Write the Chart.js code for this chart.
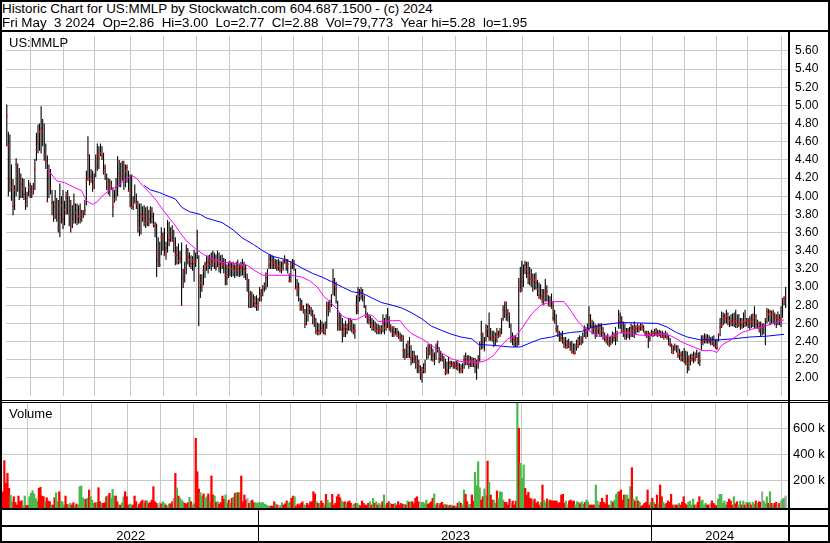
<!DOCTYPE html>
<html><head><meta charset="utf-8">
<script src="https://cdn.jsdelivr.net/npm/chart.js@4.4.1/dist/chart.umd.min.js"></script>
<style>
html,body{margin:0;padding:0;background:#fff;}
#wrap{position:relative;width:830px;height:543px;overflow:hidden;font-family:"Liberation Sans",Arial,sans-serif;color:#000;}
.ln{position:absolute;background:#000;z-index:5;}
.txt{position:absolute;font-size:13px;line-height:13px;white-space:pre;z-index:4;}
.ttl{font-size:13.4px;}
.cw{position:absolute;}
</style></head><body><div id="wrap">
<div class="txt ttl" style="left:2px;top:2.1px">Historic Chart for US:MMLP by Stockwatch.com 604.687.1500 - (c) 2024</div>
<div class="txt ttl" style="left:2px;top:15.5px">Fri May  3 2024  Op=2.86  Hi=3.00  Lo=2.77  Cl=2.88  Vol=79,773  Year hi=5.28  lo=1.95</div>
<div class="cw" style="left:2px;top:32px;width:826px;height:368px"><canvas id="pc"></canvas></div>
<div class="cw" style="left:2px;top:403px;width:826px;height:138px"><canvas id="vc"></canvas></div>
<div class="txt" style="left:9px;top:35.7px">US:MMLP</div>
<div class="txt" style="left:9px;top:407.3px">Volume</div>
<div class="ln" style="left:0;top:0;width:830px;height:2px"></div>
<div class="ln" style="left:0;top:0;width:2px;height:543px"></div>
<div class="ln" style="left:828px;top:0;width:2px;height:543px"></div>
<div class="ln" style="left:0;top:541px;width:830px;height:2px"></div>
<div class="ln" style="left:0;top:30px;width:830px;height:2px"></div>
<div class="ln" style="left:0;top:400px;width:830px;height:1px"></div>
<div class="ln" style="left:0;top:402px;width:830px;height:1px"></div>
<div class="ln" style="left:0;top:508px;width:830px;height:2px"></div>
<div class="ln" style="left:0;top:525px;width:830px;height:2px"></div>
<div class="ln" style="left:788px;top:32px;width:2px;height:511px"></div>
</div>
<script>
// ---- data (trading days, starting May 9 2022, ending May 3 2024) ----
const closes=[
4.88,4.56,4.19,4.10,3.89,4.07,4.35,4.25,4.19,4.13,
4.08,4.02,3.92,3.98,4.10,4.05,4.02,4.09,4.30,4.51,
4.60,4.71,4.75,4.71,4.45,4.39,3.94,4.28,4.09,3.93,
3.77,3.88,3.82,3.65,3.80,3.90,3.75,3.85,3.98,4.02,
3.80,3.67,3.72,3.91,3.82,3.75,3.78,3.75,3.80,3.82,
3.85,4.17,4.46,4.19,4.22,4.11,4.15,4.33,4.46,4.42,
4.48,4.45,4.27,4.31,4.18,4.10,4.08,4.12,3.88,3.97,
4.10,4.38,4.25,4.20,4.37,4.22,4.28,4.32,4.06,4.00,
3.88,3.89,3.95,3.92,3.73,3.65,3.80,3.78,3.75,3.70,
3.80,3.75,3.85,3.78,3.69,3.67,3.39,3.30,3.24,3.55,
3.55,3.35,3.43,3.60,3.52,3.55,3.64,3.48,3.35,3.35,
3.29,3.32,2.80,3.10,3.20,3.38,3.33,3.30,3.26,3.30,
3.26,3.28,3.59,3.12,3.05,3.00,3.18,3.25,3.24,3.28,
3.30,3.25,3.32,3.28,3.22,3.30,3.25,3.28,3.26,3.25,
3.13,3.10,3.22,3.25,3.20,3.23,3.18,3.22,3.20,3.23,
3.22,3.24,3.20,3.18,3.09,2.91,2.91,2.80,2.85,2.82,
2.80,2.82,2.90,2.92,2.98,3.01,3.10,3.15,3.24,3.28,
3.29,3.27,3.25,3.22,3.23,3.20,3.20,3.26,3.31,3.27,
3.25,3.07,3.22,3.27,3.24,2.98,3.00,2.98,2.80,2.78,
2.74,2.59,2.70,2.80,2.76,2.74,2.66,2.60,2.52,2.50,
2.52,2.51,2.55,2.53,2.49,2.80,2.74,2.80,2.88,3.07,
3.02,2.98,2.66,2.58,2.54,2.50,2.54,2.56,2.54,2.62,
2.60,2.55,2.52,2.52,2.80,2.74,2.90,2.95,2.92,2.78,
2.70,2.66,2.64,2.58,2.60,2.55,2.56,2.52,2.54,2.52,
2.54,2.60,2.55,2.58,2.62,2.56,2.52,2.55,2.50,2.48,
2.50,2.46,2.45,2.43,2.30,2.23,2.32,2.26,2.36,2.22,
2.26,2.22,2.18,2.16,2.12,2.06,2.06,2.09,2.15,2.30,
2.36,2.32,2.27,2.25,2.18,2.32,2.39,2.21,2.24,2.21,
2.14,2.06,2.08,2.05,2.16,2.14,2.16,2.14,2.12,2.14,
2.06,2.10,2.09,2.20,2.22,2.18,2.15,2.19,2.20,2.19,
2.12,2.16,2.20,2.35,2.48,2.40,2.30,2.50,2.54,2.45,
2.46,2.44,2.36,2.45,2.48,2.46,2.50,2.64,2.75,2.83,
2.74,2.72,2.70,2.45,2.45,2.42,2.41,2.38,3.00,2.97,
3.06,3.12,3.25,3.20,3.15,3.12,3.09,3.06,3.08,3.05,
2.98,2.91,2.88,2.90,2.86,2.93,2.95,2.80,2.84,2.78,
2.66,2.62,2.54,2.50,2.48,2.44,2.41,2.38,2.34,2.36,
2.36,2.33,2.29,2.28,2.27,2.35,2.36,2.40,2.38,2.45,
2.54,2.50,2.52,2.68,2.62,2.57,2.55,2.48,2.52,2.55,
2.57,2.52,2.50,2.45,2.42,2.40,2.36,2.42,2.46,2.44,
2.46,2.48,2.66,2.62,2.60,2.52,2.46,2.50,2.52,2.50,
2.55,2.52,2.55,2.54,2.57,2.55,2.57,2.56,2.54,2.49,
2.48,2.47,2.44,2.49,2.48,2.50,2.49,2.47,2.49,2.48,
2.45,2.46,2.49,2.45,2.38,2.36,2.30,2.27,2.34,2.32,
2.25,2.26,2.25,2.22,2.20,2.18,2.16,2.18,2.20,2.21,
2.23,2.22,2.24,2.20,2.19,2.39,2.40,2.42,2.44,2.43,
2.42,2.42,2.40,2.36,2.35,2.33,2.47,2.56,2.58,2.64,
2.66,2.68,2.66,2.63,2.62,2.61,2.64,2.63,2.58,2.60,
2.61,2.58,2.62,2.61,2.63,2.60,2.64,2.62,2.64,2.66,
2.60,2.61,2.56,2.55,2.55,2.57,2.64,2.73,2.70,2.73,
2.70,2.71,2.68,2.66,2.66,2.64,2.64,2.86,2.88,2.88];
const highs=[
5.01,4.71,4.68,4.35,4.19,4.12,4.42,4.36,4.31,4.25,
4.20,4.19,4.10,4.05,4.18,4.15,4.12,4.15,4.41,4.70,
4.79,4.80,4.99,4.85,4.80,4.58,4.45,4.35,4.30,4.07,
3.95,4.07,3.98,3.96,4.14,4.00,4.07,3.95,4.05,4.07,
4.00,3.96,3.90,4.03,3.92,3.92,3.90,3.92,3.85,3.85,
3.96,4.28,4.66,4.46,4.30,4.28,4.25,4.46,4.58,4.55,
4.58,4.55,4.48,4.35,4.25,4.20,4.19,4.17,4.10,4.07,
4.20,4.44,4.40,4.37,4.39,4.39,4.35,4.35,4.28,4.24,
4.24,4.00,4.13,4.03,3.95,3.92,3.92,3.89,3.90,3.88,
3.89,3.85,3.89,3.88,3.82,3.72,3.70,3.55,3.50,3.66,
3.60,3.65,3.50,3.74,3.72,3.66,3.68,3.63,3.55,3.45,
3.48,3.40,3.49,3.20,3.28,3.47,3.43,3.38,3.35,3.34,
3.41,3.38,3.63,3.35,3.14,3.14,3.24,3.28,3.34,3.35,
3.36,3.38,3.40,3.38,3.36,3.40,3.38,3.35,3.36,3.32,
3.31,3.25,3.28,3.29,3.27,3.28,3.25,3.28,3.30,3.26,
3.28,3.31,3.28,3.25,3.15,3.09,2.96,2.95,2.92,2.90,
2.91,2.88,3.00,2.98,3.02,3.05,3.16,3.20,3.36,3.36,
3.35,3.33,3.31,3.30,3.31,3.29,3.28,3.30,3.35,3.31,
3.31,3.15,3.28,3.31,3.30,3.20,3.09,3.05,2.88,2.86,
2.80,2.76,2.82,2.82,2.80,2.78,2.75,2.70,2.66,2.61,
2.60,2.64,2.62,2.60,2.62,2.84,2.84,2.86,2.92,3.20,
3.10,3.06,2.85,2.72,2.70,2.66,2.60,2.63,2.60,2.66,
2.66,2.64,2.60,2.59,2.91,3.00,2.98,3.00,2.98,2.91,
2.80,2.72,2.70,2.68,2.66,2.64,2.62,2.60,2.59,2.58,
2.58,2.70,2.66,2.70,2.77,2.68,2.59,2.57,2.57,2.55,
2.55,2.52,2.50,2.48,2.47,2.32,2.38,2.41,2.45,2.36,
2.30,2.30,2.25,2.25,2.20,2.14,2.12,2.16,2.20,2.34,
2.37,2.37,2.37,2.32,2.28,2.38,2.41,2.34,2.30,2.27,
2.24,2.21,2.18,2.23,2.19,2.19,2.18,2.18,2.19,2.18,
2.16,2.15,2.16,2.25,2.28,2.25,2.25,2.24,2.23,2.22,
2.22,2.20,2.25,2.40,2.63,2.50,2.45,2.59,2.58,2.72,
2.55,2.52,2.52,2.50,2.55,2.52,2.55,2.66,2.80,2.84,
2.84,2.76,2.72,2.60,2.50,2.47,2.47,2.45,3.10,3.22,
3.29,3.25,3.29,3.28,3.28,3.22,3.20,3.15,3.15,3.16,
3.08,3.05,3.03,2.98,2.98,3.09,3.02,2.91,2.90,2.93,
2.84,2.75,2.70,2.58,2.52,2.50,2.52,2.45,2.45,2.42,
2.43,2.40,2.41,2.38,2.38,2.42,2.45,2.47,2.46,2.50,
2.58,2.56,2.60,2.79,2.70,2.64,2.62,2.59,2.58,2.60,
2.60,2.60,2.56,2.50,2.47,2.49,2.45,2.46,2.51,2.50,
2.56,2.52,2.75,2.72,2.68,2.62,2.60,2.55,2.55,2.56,
2.60,2.58,2.62,2.58,2.60,2.58,2.60,2.60,2.58,2.52,
2.52,2.52,2.50,2.53,2.52,2.54,2.55,2.53,2.53,2.52,
2.52,2.50,2.52,2.50,2.47,2.44,2.38,2.36,2.38,2.36,
2.36,2.32,2.29,2.30,2.33,2.30,2.29,2.25,2.26,2.27,
2.29,2.28,2.31,2.28,2.29,2.47,2.47,2.49,2.48,2.48,
2.47,2.45,2.46,2.47,2.42,2.43,2.49,2.66,2.73,2.72,
2.71,2.75,2.72,2.68,2.70,2.71,2.72,2.75,2.70,2.70,
2.66,2.66,2.72,2.75,2.66,2.66,2.68,2.70,2.71,2.79,
2.70,2.64,2.62,2.62,2.60,2.60,2.66,2.77,2.76,2.75,
2.74,2.75,2.72,2.70,2.73,2.70,2.79,2.88,2.90,3.00];
const lows=[
4.55,4.00,4.05,3.95,3.79,3.85,4.00,4.05,3.96,3.98,
3.98,3.96,3.85,3.88,4.00,3.98,3.98,4.02,4.07,4.39,
4.47,4.50,4.47,4.55,4.39,4.30,3.94,3.98,4.02,3.79,
3.72,3.75,3.72,3.60,3.55,3.70,3.64,3.68,3.80,3.80,
3.67,3.60,3.65,3.70,3.70,3.68,3.70,3.70,3.72,3.76,
3.79,3.90,4.17,4.12,4.15,4.05,4.08,4.21,4.28,4.30,
4.44,4.40,4.24,4.18,4.07,4.02,4.00,4.07,3.77,3.93,
3.95,4.00,4.10,4.10,4.17,4.07,4.10,4.15,4.05,3.88,
3.86,3.85,3.92,3.86,3.60,3.56,3.58,3.72,3.67,3.65,
3.67,3.67,3.70,3.70,3.66,3.55,3.11,3.22,3.22,3.35,
3.40,3.35,3.30,3.38,3.45,3.50,3.50,3.38,3.24,3.25,
3.25,3.26,2.80,2.99,3.05,3.14,3.25,3.22,3.20,3.18,
3.06,3.22,3.31,2.57,2.88,2.95,3.02,3.10,3.18,3.15,
3.20,3.18,3.22,3.20,3.18,3.22,3.16,3.15,3.20,3.15,
3.02,3.02,3.10,3.12,3.11,3.12,3.10,3.12,3.12,3.11,
3.12,3.13,3.10,3.08,2.95,2.77,2.77,2.77,2.78,2.77,
2.74,2.74,2.84,2.84,2.90,2.95,2.97,3.00,3.20,3.20,
3.20,3.20,3.20,3.18,3.18,3.16,3.15,3.18,3.26,3.18,
3.15,3.05,3.05,3.20,3.18,2.98,2.90,2.84,2.74,2.74,
2.71,2.55,2.58,2.62,2.70,2.68,2.59,2.56,2.48,2.47,
2.47,2.48,2.50,2.48,2.47,2.54,2.68,2.72,2.78,2.91,
2.90,2.82,2.52,2.52,2.52,2.39,2.45,2.45,2.48,2.52,
2.52,2.50,2.48,2.43,2.70,2.70,2.84,2.86,2.84,2.77,
2.66,2.60,2.59,2.55,2.52,2.52,2.50,2.48,2.48,2.48,
2.48,2.50,2.48,2.52,2.55,2.52,2.50,2.45,2.45,2.47,
2.45,2.43,2.40,2.40,2.22,2.20,2.22,2.22,2.22,2.14,
2.16,2.16,2.10,2.05,2.05,1.98,1.95,2.05,2.05,2.20,
2.21,2.25,2.19,2.18,2.14,2.20,2.28,2.16,2.18,2.18,
2.10,2.03,2.04,2.05,2.10,2.12,2.10,2.10,2.09,2.08,
2.05,2.05,2.05,2.10,2.14,2.14,2.10,2.12,2.12,2.12,
2.05,1.98,2.10,2.18,2.31,2.32,2.30,2.40,2.45,2.41,
2.41,2.40,2.34,2.36,2.39,2.44,2.45,2.48,2.63,2.66,
2.63,2.62,2.55,2.39,2.36,2.34,2.34,2.34,2.36,2.94,
2.95,3.00,3.14,3.10,3.03,3.02,3.00,2.95,2.97,2.97,
2.90,2.87,2.86,2.82,2.80,2.84,2.84,2.79,2.78,2.76,
2.63,2.60,2.50,2.45,2.40,2.40,2.38,2.33,2.32,2.32,
2.33,2.30,2.27,2.26,2.26,2.30,2.33,2.36,2.36,2.38,
2.45,2.43,2.45,2.52,2.55,2.48,2.48,2.43,2.45,2.48,
2.45,2.45,2.42,2.40,2.38,2.36,2.34,2.36,2.38,2.40,
2.36,2.40,2.54,2.54,2.49,2.45,2.42,2.42,2.44,2.42,
2.45,2.45,2.44,2.48,2.50,2.50,2.52,2.52,2.50,2.46,
2.44,2.33,2.40,2.46,2.45,2.46,2.46,2.45,2.46,2.44,
2.44,2.42,2.44,2.42,2.36,2.34,2.27,2.26,2.30,2.28,
2.22,2.20,2.18,2.18,2.16,2.14,2.05,2.08,2.14,2.18,
2.16,2.18,2.22,2.15,2.13,2.30,2.36,2.38,2.38,2.38,
2.38,2.36,2.36,2.34,2.32,2.31,2.40,2.46,2.55,2.58,
2.60,2.60,2.58,2.56,2.57,2.57,2.56,2.55,2.55,2.56,
2.53,2.54,2.55,2.56,2.57,2.55,2.53,2.55,2.56,2.55,
2.55,2.54,2.50,2.45,2.47,2.48,2.36,2.60,2.62,2.58,
2.60,2.60,2.58,2.55,2.58,2.58,2.56,2.66,2.80,2.77];
// daily volume, thousands of shares
const volumesK=[
112,351,177,254,138,84,35,74,30,10,
79,35,43,5,79,5,8,74,100,120,
95,60,41,138,146,79,74,35,66,41,
35,10,10,66,105,35,112,40,35,10,
79,15,10,23,10,28,2,18,10,151,
156,66,54,54,62,125,74,48,23,28,
30,143,35,23,23,28,74,82,100,60,
131,79,79,35,10,10,28,74,112,74,
10,18,10,10,79,35,2,18,35,48,
28,43,41,23,30,48,151,35,23,5,
28,18,35,23,10,2,18,20,35,62,
254,141,79,62,48,35,23,18,28,69,
35,10,20,523,266,133,105,79,95,62,
74,95,40,233,87,79,31,35,18,30,
79,54,87,23,48,23,62,69,100,105,
105,105,233,35,87,48,62,23,41,48,
28,28,23,28,28,28,28,15,10,2,
2,2,0,35,18,10,2,5,28,10,
20,41,23,35,62,79,74,2,18,10,
23,35,10,10,23,10,35,35,112,95,
35,23,23,41,23,10,92,48,23,30,
92,10,23,74,92,66,41,31,35,23,
35,41,23,10,15,23,23,10,5,41,
23,10,10,23,35,10,62,23,35,10,
23,10,35,87,10,23,35,23,15,15,
23,10,35,10,23,15,15,10,41,31,
35,35,20,62,74,35,23,31,31,20,
48,15,23,35,62,95,10,23,10,23,
31,10,15,10,5,8,10,0,3,0,
23,35,23,10,125,92,35,10,15,87,
40,261,159,343,143,48,74,133,82,348,
185,87,48,48,23,118,60,112,108,48,
31,31,10,56,23,41,10,41,810,600,
331,215,318,138,87,108,62,56,40,56,
23,35,10,31,164,48,31,56,41,48,
41,41,41,41,23,30,87,92,23,41,
10,41,48,35,41,10,35,31,20,35,
15,30,48,35,10,10,10,10,164,41,
10,31,62,31,20,87,10,10,41,31,
48,92,108,112,125,48,87,87,87,56,
151,297,56,40,74,41,31,0,10,23,
31,125,10,31,62,31,15,87,20,164,
74,31,15,23,41,31,92,10,10,10,
10,23,10,31,74,20,10,31,41,10,
56,10,10,31,74,41,48,10,23,10,
10,20,41,23,10,5,56,92,92,23,
41,10,31,56,41,10,74,20,35,10,
41,10,41,10,31,23,31,10,31,15,
41,23,35,31,112,41,20,74,23,112,
23,10,23,31,10,23,41,56,62,80];
// moving averages (day index, value)
const maFastIdx=[26,32,37,43,48,51,55,58,61,66,70,75,80,83,87,92,96,100,105,107,111,115,121,126,132,138,143,149,154,159,164,168,182,189,194,199,203,207,212,215,219,224,229,234,238,247,252,255,259,266,272,279,285,291,302,307,312,317,321,326,331,336,342,349,357,361,366,370,375,379,387,393,399,406,423,427,433,440,446,452,455,458,465,471,478,484,491,498];
const maFastVal=[4.30,4.17,4.15,4.10,4.06,3.95,3.91,3.94,4.00,4.07,4.10,4.17,4.23,4.20,4.12,4.03,3.95,3.85,3.74,3.70,3.60,3.51,3.42,3.36,3.31,3.27,3.27,3.25,3.24,3.18,3.13,3.13,3.13,3.11,3.07,3.00,2.90,2.84,2.75,2.68,2.65,2.64,2.69,2.69,2.62,2.63,2.63,2.56,2.49,2.43,2.36,2.27,2.21,2.18,2.17,2.19,2.25,2.36,2.43,2.46,2.57,2.70,2.80,2.84,2.84,2.75,2.62,2.55,2.50,2.46,2.46,2.50,2.49,2.47,2.48,2.45,2.39,2.34,2.30,2.30,2.28,2.36,2.43,2.50,2.54,2.56,2.60,2.64];
const maSlowIdx=[88,92,98,102,108,112,117,124,128,132,138,145,151,158,164,170,177,183,189,196,202,208,215,221,228,234,240,247,253,259,266,272,279,285,291,298,302,310,317,323,329,336,342,349,355,361,368,374,380,393,417,423,429,436,444,457,465,476,487,498];
const maSlowVal=[4.12,4.07,4.04,4.01,3.97,3.88,3.83,3.80,3.76,3.74,3.71,3.63,3.54,3.47,3.40,3.34,3.31,3.27,3.21,3.15,3.11,3.06,3.00,2.95,2.93,2.88,2.83,2.80,2.77,2.72,2.65,2.57,2.52,2.48,2.45,2.43,2.37,2.36,2.35,2.34,2.34,2.39,2.43,2.45,2.48,2.50,2.51,2.55,2.58,2.61,2.60,2.56,2.50,2.45,2.42,2.42,2.43,2.45,2.46,2.48];
const priceTicks=[2.00,2.20,2.40,2.60,2.80,3.00,3.20,3.40,3.60,3.80,4.00,4.20,4.40,4.60,4.80,5.00,5.20,5.40,5.60];
const volumeTicksK=[200,400,600];
const monthNames=['2022-05','2022-06','2022-07','2022-08','2022-09','2022-10','2022-11','2022-12','2023-01','2023-02','2023-03','2023-04','2023-05','2023-06','2023-07','2023-08','2023-09','2023-10','2023-11','2023-12','2024-01','2024-02','2024-03','2024-04','2024-05'];
const monthDays=[16,21,20,23,21,21,21,21,20,19,23,19,22,21,20,23,20,22,21,20,21,20,20,22,3];

// ---- derived structures ----
const monthStarts=[];let acc=0;monthDays.forEach(d=>{monthStarts.push(acc);acc+=d;});
const gridValues=monthStarts.filter(s=>s>0).map(s=>s-0.5);
const years=[];monthNames.forEach((m,k)=>{const y=m.slice(0,4);if(!years.length||years[years.length-1].year!==y)years.push({year:y,start:monthStarts[k]});});
const N=closes.length;
const X_MIN=-0.5,X_MAX=N+0.5;
const PRICE_MIN=1.8007,PRICE_MAX=5.7648;
const VOL_MIN=-13.1,VOL_MAX=794.6;
const RED='#ff0000',GREEN='#4cb84c',GREY='#a6a6a6',GRID='#c8c8c8';
const FONT='"Liberation Sans", Arial, sans-serif';
Chart.defaults.font.family=FONT;
Chart.defaults.color='#000';

const days=closes.map((_,i)=>i);
const barsHL=days.map(i=>({x:i,y:[lows[i],highs[i]]}));
const closePts=days.map(i=>({x:i,y:closes[i]}));
const fastPts=maFastIdx.map((d,k)=>({x:d,y:maFastVal[k]}));
const slowPts=maSlowIdx.map((d,k)=>({x:d,y:maSlowVal[k]}));
const volPts=days.map(i=>({x:i,y:volumesK[i]}));
const volColors=days.map(i=>i===0?RED:(closes[i]>closes[i-1]?GREEN:(closes[i]<closes[i-1]?RED:GREY)));

function zeroPad(s){s.paddingTop=0;s.paddingBottom=0;s.paddingLeft=0;s.paddingRight=0;}
function xScale(){
  return {type:'linear',min:X_MIN,max:X_MAX,offset:false,
    grid:{color:GRID,lineWidth:1,drawTicks:false,offset:false},
    border:{display:false},ticks:{display:false},
    afterBuildTicks:s=>{s.ticks=gridValues.map(v=>({value:v}));},
    afterFit:s=>{s.height=0;zeroPad(s);}};
}
const common={responsive:true,maintainAspectRatio:false,animation:false,events:[],
  plugins:{legend:{display:false},tooltip:{enabled:false}}};

new Chart(document.getElementById('pc'),{
  type:'bar',
  data:{datasets:[
    {type:'line',data:fastPts,borderColor:'#ff00ff',borderWidth:1,pointRadius:0,tension:0,order:0},
    {type:'line',data:slowPts,borderColor:'#0000ff',borderWidth:1,pointRadius:0,tension:0,order:0},
    {type:'line',data:closePts,showLine:false,pointStyle:'rect',pointRadius:1.1,pointBackgroundColor:RED,pointBorderWidth:0,order:1},
    {type:'bar',data:barsHL,backgroundColor:'#000',borderWidth:0,barPercentage:0.7,categoryPercentage:1,order:2}
  ]},
  options:Object.assign({},common,{
    layout:{padding:0},
    scales:{
      x:xScale(),
      y:{position:'right',min:PRICE_MIN,max:PRICE_MAX,
        grid:{color:GRID,lineWidth:1,drawTicks:false},border:{display:false},
        ticks:{padding:7,autoSkip:false,color:'#000',font:{size:12,family:FONT},callback:v=>Number(v).toFixed(2)},
        afterBuildTicks:s=>{s.ticks=priceTicks.map(v=>({value:v}));},
        afterFit:s=>{s.width=40;zeroPad(s);}}
    }})
});

const yearPlugin={id:'years',afterDraw(chart){
  const ctx=chart.ctx,xs=chart.scales.x,area=chart.chartArea;
  ctx.save();
  ctx.fillStyle='#000';
  ctx.font='13px '+FONT;ctx.textAlign='center';ctx.textBaseline='alphabetic';
  years.forEach((y,k)=>{
    const left=k===0?area.left:xs.getPixelForValue(y.start-0.5);
    const right=k===years.length-1?area.right:xs.getPixelForValue(years[k+1].start-0.5);
    if(k>0){ctx.fillRect(Math.round(left)-1,area.bottom+2,1,33);}
    ctx.fillText(y.year,(left+right)/2,area.bottom+32.3);
  });
  ctx.restore();
}};

new Chart(document.getElementById('vc'),{
  type:'bar',
  data:{datasets:[
    {data:volPts,backgroundColor:volColors,borderWidth:0,barPercentage:1,categoryPercentage:1,base:VOL_MIN}
  ]},
  options:Object.assign({},common,{
    layout:{padding:{bottom:33}},
    scales:{
      x:xScale(),
      y:{position:'right',min:VOL_MIN,max:VOL_MAX,
        grid:{color:GRID,lineWidth:1,drawTicks:false},border:{display:false},
        ticks:{padding:5,autoSkip:false,color:'#000',font:{size:13,family:FONT},callback:v=>v+' k'},
        afterBuildTicks:s=>{s.ticks=volumeTicksK.map(v=>({value:v}));},
        afterFit:s=>{s.width=40;zeroPad(s);}}
    }}),
  plugins:[yearPlugin]
});
</script>
</body></html>
